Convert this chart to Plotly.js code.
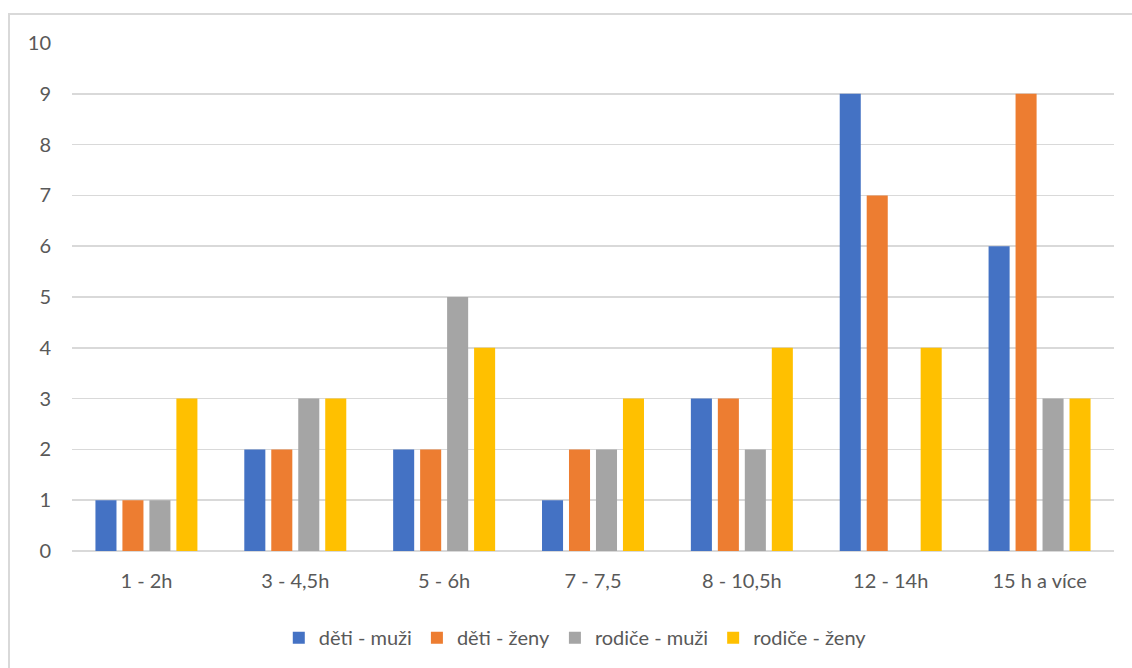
<!DOCTYPE html>
<html>
<head>
<meta charset="utf-8">
<script src="https://cdn.plot.ly/plotly-3.0.1.min.js"></script>
<style>
  html, body { margin: 0; padding: 0; background: #fff; }
  #wrap { position: relative; width: 1132px; height: 668px; }
  #chart { width: 1132px; height: 668px; }
  #frame { position: absolute; left: 8px; top: 13px; right: 0; bottom: 0;
           border-top: 2px solid #d9d9d9; border-left: 2px solid #d9d9d9;
           pointer-events: none; }
</style>
</head>
<body>
<div id="wrap">
  <div id="chart"></div>
  <div id="frame"></div>
</div>
<script>
// Počet hodin – kategorie na ose x
const categories = ["1 - 2h", "3 - 4,5h", "5 - 6h", "7 - 7,5", "8 - 10,5h", "12 - 14h", "15 h a více"];

// Hodnoty jednotlivých skupin
const detiMuzi    = [1, 2, 2, 1, 3, 9, 6];
const detiZeny    = [1, 2, 2, 2, 3, 7, 9];
const rodiceMuzi  = [1, 3, 5, 2, 2, 0, 3];
const rodiceZeny  = [3, 3, 4, 3, 4, 4, 3];

const seriesNames = ["děti - muži", "děti - ženy", "rodiče - muži", "rodiče - ženy"];
const seriesColors = ["#4472c4", "#ed7d31", "#a5a5a5", "#ffc000"];
const seriesValues = [detiMuzi, detiZeny, rodiceMuzi, rodiceZeny];

const yTicks = [0, 1, 2, 3, 4, 5, 6, 7, 8, 9, 10];

const fontFamily = "Lato, 'Open Sans', sans-serif";
const fontSize = 20;

const traces = seriesValues.map((vals, i) => ({
  type: "bar",
  name: seriesNames[i],
  x: categories,
  y: vals,
  marker: { color: seriesColors[i], line: { width: 0 } },
  hoverinfo: "x+y+name"
}));

const layout = {
  width: 1132,
  height: 668,
  margin: { l: 72, r: 18, t: 43, b: 116 },
  paper_bgcolor: "#ffffff",
  plot_bgcolor: "#ffffff",
  font: { family: fontFamily, size: fontSize, color: "#595959" },
  barmode: "group",
  bargap: 0.275,
  bargroupgap: 0.22,
  showlegend: true,
  legend: {
    orientation: "h",
    x: 0.483, xanchor: "center",
    y: -0.13, yanchor: "top",
    font: { family: fontFamily, size: fontSize, color: "#595959" },
    itemwidth: 30,
    traceorder: "normal"
  },
  xaxis: {
    type: "category",
    showgrid: false,
    zeroline: false,
    showline: false,
    ticks: "",
    ticklabelstandoff: 16,
    tickfont: { family: fontFamily, size: fontSize, color: "#595959" }
  },
  yaxis: {
    range: [0, 10],
    tickvals: yTicks,
    ticktext: yTicks.map(String),
    showgrid: true,
    gridcolor: "#d9d9d9",
    gridwidth: 1.5,
    zeroline: true,
    zerolinecolor: "#d9d9d9",
    zerolinewidth: 1.5,
    showline: false,
    ticks: "",
    ticklabelstandoff: 20,
    tickfont: { family: fontFamily, size: fontSize, color: "#595959" }
  }
};

Plotly.newPlot("chart", traces, layout, { displayModeBar: false, staticPlot: true });
</script>
</body>
</html>
